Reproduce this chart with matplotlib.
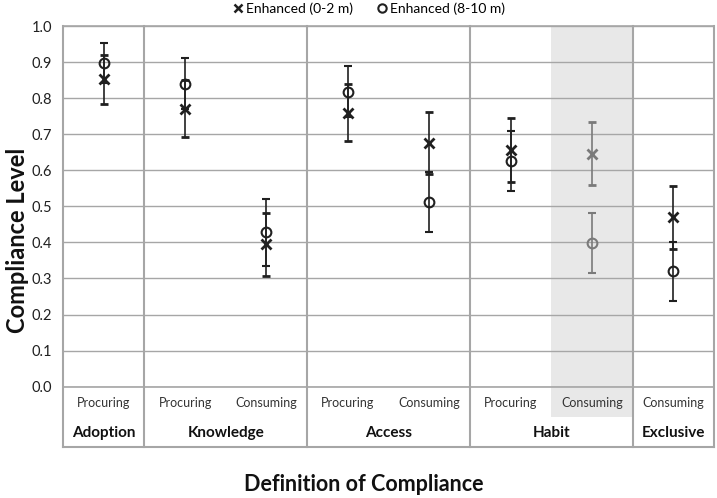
import matplotlib.pyplot as plt
from matplotlib.lines import Line2D
import numpy as np

plt.rcParams['font.family'] = ['Lato', 'DejaVu Sans']

groups = ['Adoption', 'Knowledge', 'Access', 'Habit', 'Exclusive']
group_sizes = [1, 2, 2, 2, 1]
subs = ['Procuring', 'Procuring', 'Consuming', 'Procuring', 'Consuming',
        'Procuring', 'Consuming', 'Consuming']

near = [0.852, 0.771, 0.395, 0.760, 0.675, 0.656, 0.646, 0.470]   # Enhanced (0-2 m)
near_err = [0.068, 0.080, 0.087, 0.078, 0.086, 0.088, 0.088, 0.087]
far = [0.897, 0.840, 0.428, 0.818, 0.512, 0.626, 0.398, 0.320]    # Enhanced (8-10 m)
far_err = [0.055, 0.070, 0.092, 0.070, 0.083, 0.084, 0.083, 0.082]
highlight = 6   # Habit / Consuming drawn in grey

fig = plt.figure(figsize=(7.17, 4.98), dpi=100)
ax = fig.add_axes([63/717, (498-386.7)/498, 651/717, (386.7-26)/498])

n = len(subs)
xs = np.arange(n) + 0.5
gridc = '#a6a6a6'

# shaded column
ax.axvspan(highlight, highlight + 1, ymin=-0.0832, ymax=1, color='#e8e8e8',
           zorder=0, clip_on=False, lw=0)

for i in range(n):
    c = '#7a7a7a' if i == highlight else '#202020'
    ax.errorbar(xs[i], far[i], yerr=far_err[i], fmt='o', mfc='none', mec=c,
                ms=7, mew=1.5, ecolor=c, elinewidth=1.2, capsize=3, capthick=1.2, zorder=3)
    ax.errorbar(xs[i], near[i], yerr=near_err[i], fmt='x', color=c,
                ms=7, mew=2, ecolor=c, elinewidth=1.2, capsize=3, capthick=1.2, zorder=3)

ax.set_xlim(0, n)
ax.set_ylim(0, 1)
ax.set_yticks(np.arange(0, 1.01, 0.1))
ax.set_yticklabels([f'{v:.1f}' for v in np.arange(0, 1.01, 0.1)], fontsize=10.5, color='#202020')
ax.set_xticks([])
ax.tick_params(axis='y', length=0, pad=8)
ax.yaxis.grid(True, color=gridc, lw=1)
ax.set_axisbelow(True)
for s in ax.spines.values():
    s.set_visible(False)

# table-like frame under the axis
tr = ax.get_xaxis_transform()
bot = -0.1663
ax.plot([0, n], [0, 0], color=gridc, lw=1.2, transform=tr, clip_on=False)
ax.plot([0, n], [bot, bot], color=gridc, lw=1.5, transform=tr, clip_on=False)
ax.plot([0, n], [1, 1], color=gridc, lw=1.2, transform=tr, clip_on=False)
edges = np.concatenate([[0], np.cumsum(group_sizes)])
for e in edges:
    ax.plot([e, e], [bot, 1], color=gridc, lw=1.5, transform=tr, clip_on=False)

for i in range(n):
    ax.text(xs[i], -0.0444, subs[i], transform=tr, ha='center', va='center',
            fontsize=9, color='#333333')
for g, a, b in zip(groups, edges[:-1], edges[1:]):
    ax.text((a + b) / 2, -0.1275, g, transform=tr, ha='center', va='center',
            fontsize=11, fontweight='bold', color='#111111')

fig.text(18/717, (498-240)/498, 'Compliance Level', rotation=90, ha='center', va='center',
         fontsize=17, fontweight='bold', color='#111111')
fig.text(364/717, (498-484)/498, 'Definition of Compliance', ha='center', va='center',
         fontsize=15.5, fontweight='bold', color='#111111')

handles = [Line2D([], [], ls='none', marker='x', color='#202020', ms=6, mew=1.8),
           Line2D([], [], ls='none', marker='o', mfc='none', mec='#202020', ms=6, mew=1.5)]
fig.legend(handles, ['Enhanced (0-2 m)', 'Enhanced (8-10 m)'], loc='center',
           bbox_to_anchor=(368/717, 1 - 9/498), ncol=2, frameon=False, fontsize=10,
           handletextpad=0.1, columnspacing=1.6, handlelength=1)

fig.savefig('out.png', dpi=100)
